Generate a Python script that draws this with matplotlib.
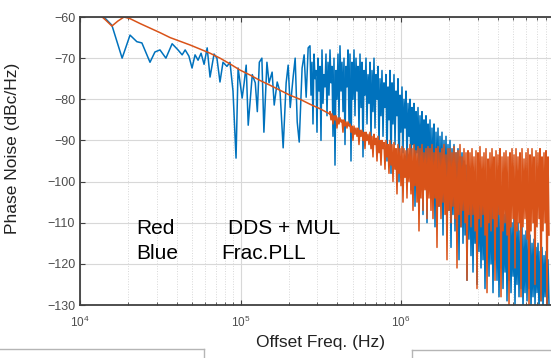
import numpy as np
import matplotlib
matplotlib.use("Agg")
import matplotlib.pyplot as plt
from matplotlib.lines import Line2D

plt.rcParams['font.family'] = ['Liberation Sans', 'DejaVu Sans']
plt.rcParams['mathtext.fontset'] = 'custom'
plt.rcParams['mathtext.rm'] = 'Liberation Sans'
plt.rcParams['axes.unicode_minus'] = True

# --- dados ---
# Frac.PLL (azul), parte esparsa: freq em kHz, ruido em dBc/Hz
azul_f_khz = [10.0, 13.3, 14.5, 15.8, 18.3, 20.5, 22.6, 24.3, 27.3, 29.3, 31.5, 34.3,
              37.5, 40.8, 43.3, 45.2, 47.7, 49.9, 52.1, 54.4, 56.8, 59.3, 62.0, 64.6,
              68.4, 71.3, 74.5, 77.8, 82.3, 86.0, 89.8, 93.8, 96.6, 102.4, 105.4, 108.5,
              111.7, 118.4, 123.6, 127.3, 131.0, 135.9, 139.9, 146.1, 150.6, 157.4, 162.2,
              169.3, 176.4, 184.4, 192.5, 198.1, 204.1, 212.9, 219.1, 225.6, 232.2, 242.0,
              249.2, 256.5, 264.0]
azul_db = [-56.0, -59.3, -60.5, -62.0, -70.0, -64.4, -66.0, -66.3, -71.0, -68.5, -68.0, -70.0,
           -66.5, -68.0, -69.2, -68.0, -69.5, -72.4, -69.2, -70.5, -68.8, -71.5, -67.5, -74.6,
           -69.0, -70.0, -75.8, -71.0, -72.0, -71.0, -78.0, -94.3, -72.4, -79.7, -76.0, -71.7,
           -86.3, -74.0, -76.0, -83.0, -71.0, -70.0, -88.0, -71.0, -76.0, -73.4, -81.4,
           -75.8, -78.2, -91.8, -76.0, -71.7, -82.0, -74.5, -70.0, -85.5, -90.4, -72.4,
           -69.2, -79.5, -67.5]

# parte densa do azul (271 kHz ate 8.36 MHz)
azul_denso_ini, azul_denso_fim = 271e3, 8.36e6
azul_denso_db = [
    -67, -79, -71, -86, -69, -75, -73, -88, -70, -78, -72, -90, -68, -81, -74, -77, -69, -84, -71, -79,
    -68, -76, -72, -89, -70, -96, -73, -80, -69, -85, -67, -78, -71, -83, -70, -91, -72, -77, -68, -86,
    -69, -95, -71, -80, -68, -84, -70, -78, -72, -88, -69, -82, -71, -94, -73, -79, -70, -86, -74, -81,
    -71, -90, -73, -83, -70, -87, -74, -80, -72, -92, -75, -84, -73, -89, -76, -82, -74, -95, -77, -85,
    -73, -98, -76, -86, -74, -91, -78, -84, -75, -100, -79, -88, -77, -93, -80, -87, -78, -96, -81, -89,
    -80, -102, -82, -91, -81, -106, -83, -93, -82, -97, -84, -95, -83, -108, -85, -96, -84, -110, -86, -98,
    -85, -104, -87, -99, -86, -111, -88, -101, -87, -106, -89, -103, -88, -113, -90, -105, -89, -109, -91, -107,
    -90, -116, -92, -108, -91, -112, -93, -110, -92, -119, -94, -111, -93, -115, -95, -113, -96, -124, -97, -114,
    -98, -118, -99, -122, -100, -115, -101, -125, -100, -117, -102, -121, -101, -119, -103, -126, -102, -118, -104, -123,
    -103, -120, -105, -127, -104, -119, -106, -124, -105, -128, -107, -121, -106, -126, -108, -122, -107, -129, -109, -124,
    -108, -127, -110, -123, -109, -130, -111, -125, -110, -128, -112, -126, -111, -131, -113, -127, -112, -129, -114, -126,
    -113, -131, -115, -128, -114, -130, -116, -127, -115, -132, -117, -129, -116, -131, -118, -128, -117, -132, -119, -130]

# DDS + MUL (vermelho), parte suave
verm_f_khz = [10.0, 13.3, 14.5, 15.8, 17.2, 18.8, 20.5, 23.7, 27.3, 31.5, 36.4, 42.0, 48.5,
              56.0, 64.6, 74.5, 86.0, 99.3, 114.6, 132.0, 153.0, 176.0, 203.0, 235.0,
              271.0, 313.0, 361.0]
verm_db = [-57.0, -59.5, -60.8, -62.2, -61.0, -60.0, -60.4, -61.6, -62.7, -63.8, -65.0, -65.9, -66.8,
           -67.8, -68.8, -70.0, -71.4, -72.9, -74.1, -75.4, -76.6, -77.8, -79.0, -80.0,
           -81.2, -82.3, -83.6]

# parte densa do vermelho (361 kHz ate 8.36 MHz)
verm_denso_ini, verm_denso_fim = 361e3, 8.36e6
verm_denso_db = [
    -83, -85, -83.5, -86, -84, -85, -84, -87, -84.5, -86, -84.5, -85.5, -85, -88, -85, -86.5, -85.5, -87, -85.5, -86.5,
    -86, -88, -86.5, -90, -86.5, -88.5, -87, -89, -87, -91, -87.5, -89, -87.5, -90, -88, -92, -88, -90, -88.5, -91,
    -88, -92, -89, -94, -88.5, -91, -89.5, -95, -89, -93, -90, -96, -90, -92, -90.5, -97, -90, -94, -91, -98,
    -90, -96, -91, -100, -90.5, -97, -92, -103, -91, -98, -92, -101, -91.5, -105, -92, -99, -92.5, -104, -92, -100,
    -91, -103, -92, -107, -91, -101, -92.5, -105, -91.5, -112, -92, -104, -91, -107, -93, -102, -92, -109, -91.5, -104,
    -92, -107, -91, -109, -93, -104, -92, -116, -91.5, -106, -93, -109, -92, -105, -91, -108, -93.5, -119, -92, -107,
    -92, -110, -93, -106, -91.5, -109, -93, -121, -92.5, -108, -91, -111, -94, -107, -92, -110, -93, -124, -92.5, -108,
    -93, -111, -92, -108, -94, -112, -92.5, -126, -93, -109, -91.5, -111, -94, -108, -93, -113, -92, -127, -94.5, -110,
    -93, -112, -92, -109, -94, -124, -92.5, -111, -93.5, -108, -92, -128, -94, -112, -93, -110, -92.5, -113, -94, -130,
    -93, -111, -92, -109, -93.5, -121, -92, -112, -94, -110, -93, -128, -92, -111, -94.5, -109, -93, -114, -92, -131,
    -93.5, -112, -92, -110, -94, -125, -92.5, -111, -93, -109, -92, -129, -94, -112, -93, -110, -92.5, -131, -94, -113]

yticks = [-60, -70, -80, -90, -100, -110, -120, -130]
xticks = [1e4, 1e5, 1e6]
xtick_labels = ['$10^4$', '$10^5$', '$10^6$']

# monta as curvas completas
f_azul = np.concatenate([np.array(azul_f_khz) * 1e3,
                         np.geomspace(azul_denso_ini, azul_denso_fim, len(azul_denso_db))])
y_azul = np.concatenate([azul_db, azul_denso_db])
f_verm = np.concatenate([np.array(verm_f_khz) * 1e3,
                         np.geomspace(verm_denso_ini, verm_denso_fim, len(verm_denso_db))])
y_verm = np.concatenate([verm_db, verm_denso_db])

fig = plt.figure(figsize=(5.51, 3.58), dpi=100)
# eixo vai alem da borda direita (figura recortada)
ax = fig.add_axes([80 / 551, 53 / 358, 481.5 / 551, 288 / 358])

ax.semilogx(f_azul, y_azul, color='#0072BD', lw=1.1)
ax.semilogx(f_verm, y_verm, color='#D95319', lw=1.1)

ax.set_xlim(1e4, 1e7)
ax.set_ylim(-130, -60)
ax.set_yticks(yticks)
ax.set_xticks(xticks)
ax.set_xticklabels(xtick_labels)

ax.grid(True, which='major', color='#d8d8d8', lw=0.8, ls='-')
ax.grid(True, which='minor', axis='x', color='#d8d8d8', lw=0.7, ls=':')
ax.tick_params(which='both', direction='in', top=True, right=False, colors='#404040',
               labelcolor='#4d4d4d', labelsize=9)
ax.tick_params(axis='x', which='major', labelsize=8.5, pad=7)
ax.tick_params(which='minor', length=2)
for s in ['left', 'bottom', 'top']:
    ax.spines[s].set_color('#404040')
    ax.spines[s].set_linewidth(1.3)
ax.spines['right'].set_visible(False)

ax.set_ylabel('Phase Noise (dBc/Hz)', fontsize=12.5, color='#222222')
ax.yaxis.set_label_coords(-0.125, 0.545)
ax.set_xlabel('Offset Freq. (Hz)', fontsize=12.5, color='#222222', labelpad=4)

# texto da legenda improvisada
ax.text(2.23e4, -111.5, 'Red', fontsize=15, color='black', va='center')
ax.text(2.23e4, -117.4, 'Blue', fontsize=15, color='black', va='center')
ax.text(8.36e4, -111.5, 'DDS + MUL', fontsize=15, color='black', va='center')
ax.text(7.55e4, -117.4, 'Frac.PLL', fontsize=15, color='black', va='center')

# linhas do documento na parte de baixo
cinza = '#b5b5b5'
fig.add_artist(Line2D([0, 204 / 551], [1 - 349 / 358, 1 - 349 / 358], color=cinza, lw=1))
fig.add_artist(Line2D([204 / 551, 204 / 551], [1 - 349 / 358, 0], color=cinza, lw=1))
fig.add_artist(Line2D([412 / 551, 1], [1 - 350 / 358, 1 - 350 / 358], color=cinza, lw=1))
fig.add_artist(Line2D([412 / 551, 412 / 551], [1 - 350 / 358, 0], color=cinza, lw=1))

fig.savefig('out.png', dpi=100)
